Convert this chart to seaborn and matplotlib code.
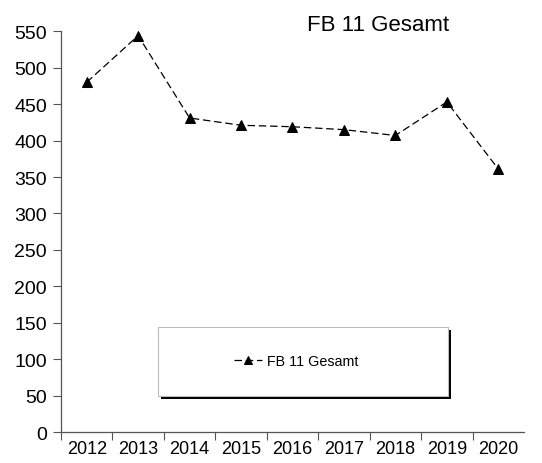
import matplotlib
matplotlib.use("Agg")
import matplotlib.pyplot as plt
import matplotlib.patches as mpatches
import matplotlib.transforms as mtransforms
import seaborn as sns
import pandas as pd

years = ["2012", "2013", "2014", "2015", "2016", "2017", "2018", "2019", "2020"]
values = [480, 544, 431, 421, 419, 415, 407, 453, 361]
series_name = "FB 11 Gesamt"
y_ticks = list(range(0, 551, 50))

sns.set_theme(style="white")
plt.rcParams["font.family"] = ["Liberation Sans", "DejaVu Sans"]
plt.rcParams["text.color"] = "black"
plt.rcParams["xtick.color"] = "black"
plt.rcParams["ytick.color"] = "black"

df = pd.DataFrame({"Jahr": years, "Wert": values})

fig = plt.figure(figsize=(5.42, 4.64), dpi=100)
ax = fig.add_axes([0.1125, 0.0668, 0.8543, 0.8636])

sns.lineplot(data=df, x="Jahr", y="Wert", ax=ax, color="black",
             linewidth=0.9, linestyle=(0, (6, 3)), marker="^",
             markersize=7.5, markeredgecolor="black", label=series_name,
             legend=False)

ax.set_xlim(-0.5, len(years) - 0.5)
ax.set_ylim(0, 550)
ax.set_yticks(y_ticks)
ax.set_xlabel("")
ax.set_ylabel("")

# category ticks sit between the years, labels centred below each year
ax.set_xticks([i - 0.5 for i in range(len(years))])
ax.set_xticklabels([])
ax.set_xticks(range(len(years)), minor=True)
ax.set_xticklabels(years, minor=True)
ax.tick_params(axis="x", which="major", direction="out", length=6, width=0.8,
               color="#555555", bottom=True)
ax.tick_params(axis="x", which="minor", length=0, pad=6, labelsize=13,
               labelcolor="black")
ax.tick_params(axis="y", direction="out", length=6, width=0.8,
               color="#555555", left=True, labelsize=14, pad=4,
               labelcolor="black")

for side in ["top", "right"]:
    ax.spines[side].set_visible(False)
for side in ["left", "bottom"]:
    ax.spines[side].set_color("#555555")
    ax.spines[side].set_linewidth(0.9)

ax.text(0.685, 0.99, series_name, transform=ax.transAxes, ha="center",
        va="bottom", fontsize=16, color="black")

# framed legend box with a solid drop shadow
box_x, box_y, box_w, box_h = 0.2095, 0.0905, 0.626, 0.172
shadow_tf = mtransforms.offset_copy(ax.transAxes, fig=fig, x=3, y=-3,
                                    units="dots")
shadow = mpatches.Rectangle((box_x, box_y), box_w, box_h, transform=shadow_tf,
                            facecolor="black", edgecolor="none", zorder=2.9)
box = mpatches.Rectangle((box_x, box_y), box_w, box_h, transform=ax.transAxes,
                         facecolor="white", edgecolor="#bbbbbb", linewidth=0.8,
                         zorder=3)
ax.add_patch(shadow)
ax.add_patch(box)

handles, labels = ax.get_legend_handles_labels()
leg = ax.legend(handles, labels, loc="center",
                bbox_to_anchor=(box_x + box_w / 2 - 0.015, box_y + box_h / 2),
                frameon=False, fontsize=10.3, handlelength=2.0,
                handletextpad=0.3, markerscale=0.75, labelcolor="black")
leg.set_zorder(4)

fig.savefig("out.png", dpi=100)
